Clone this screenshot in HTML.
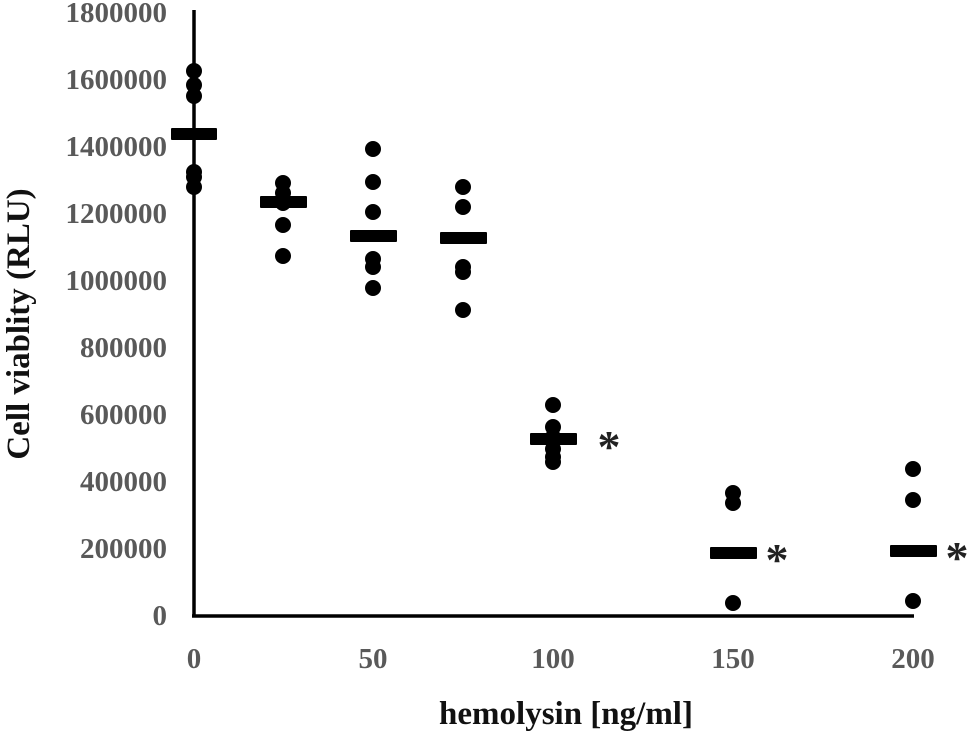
<!DOCTYPE html>
<html><head><style>body{margin:0;background:#fff}</style></head><body>
<svg width="970" height="733" viewBox="0 0 970 733" xmlns="http://www.w3.org/2000/svg" font-family="Liberation Serif, serif" font-weight="bold">
<g stroke="#000" stroke-width="3.5"><line x1="194" y1="10" x2="194" y2="617"/><line x1="192" y1="616" x2="914" y2="616"/></g>
<g fill="#595959" font-size="29" text-anchor="end">
<text x="167" y="625">0</text><text x="167" y="558">200000</text><text x="167" y="491">400000</text><text x="167" y="424">600000</text><text x="167" y="357">800000</text><text x="167" y="290">1000000</text><text x="167" y="223">1200000</text><text x="167" y="156">1400000</text><text x="167" y="89">1600000</text><text x="167" y="22">1800000</text>
</g>
<g fill="#595959" font-size="29" text-anchor="middle">
<text x="194" y="668">0</text><text x="373" y="668">50</text><text x="553" y="668">100</text><text x="733" y="668">150</text><text x="913" y="668">200</text>
</g>
<text x="566" y="724" font-size="33" text-anchor="middle" fill="#111">hemolysin [ng/ml]</text>
<text transform="translate(29,324) rotate(-90)" font-size="33" text-anchor="middle" fill="#111">Cell viablity (RLU)</text>
<g fill="#000">
<circle cx="194" cy="71" r="8"/><circle cx="194" cy="85" r="8"/><circle cx="194" cy="96" r="8"/><circle cx="194" cy="172" r="8"/><circle cx="194" cy="177" r="8"/><circle cx="194" cy="187" r="8"/>
<circle cx="283" cy="183" r="8"/><circle cx="283" cy="193" r="8"/><circle cx="283" cy="203" r="8"/><circle cx="283" cy="225" r="8"/><circle cx="283" cy="256" r="8"/>
<circle cx="373" cy="149" r="8"/><circle cx="373" cy="182" r="8"/><circle cx="373" cy="212" r="8"/><circle cx="373" cy="259" r="8"/><circle cx="373" cy="267" r="8"/><circle cx="373" cy="288" r="8"/>
<circle cx="463" cy="187" r="8"/><circle cx="463" cy="207" r="8"/><circle cx="463" cy="267" r="8"/><circle cx="463" cy="272" r="8"/><circle cx="463" cy="310" r="8"/>
<circle cx="553" cy="405" r="8"/><circle cx="553" cy="427" r="8"/><circle cx="553" cy="437" r="8"/><circle cx="553" cy="449" r="8"/><circle cx="553" cy="457" r="8"/><circle cx="553" cy="462" r="8"/>
<circle cx="733" cy="493" r="8"/><circle cx="733" cy="503" r="8"/><circle cx="733" cy="603" r="8"/>
<circle cx="913" cy="469" r="8"/><circle cx="913" cy="500" r="8"/><circle cx="913" cy="601" r="8"/>
<rect x="171" y="128" width="46" height="12" rx="1"/>
<rect x="260" y="196" width="47" height="12" rx="1"/>
<rect x="350" y="230" width="47" height="12" rx="1"/>
<rect x="440" y="232" width="47" height="12" rx="1"/>
<rect x="530" y="433" width="47" height="12" rx="1"/>
<rect x="710" y="547" width="47" height="12" rx="1"/>
<rect x="890" y="545" width="47" height="12" rx="1"/>
</g>
<g fill="#222" font-size="46" text-anchor="middle">
<text x="609" y="462">*</text><text x="777" y="575">*</text><text x="957" y="573">*</text>
</g>
</svg>
</body></html>
